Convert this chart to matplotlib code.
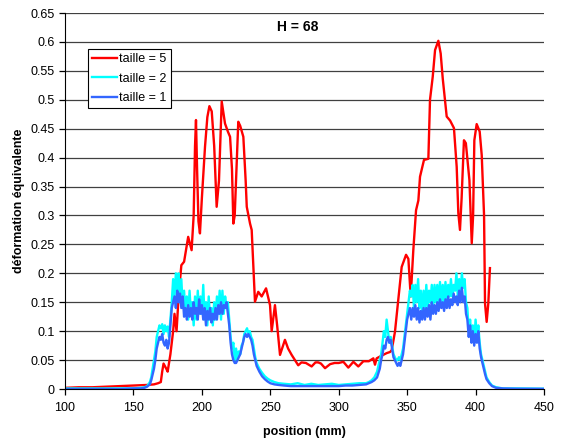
import numpy as np
import matplotlib
matplotlib.use("Agg")
import matplotlib.pyplot as plt

plt.rcParams['font.family'] = ['Liberation Sans', 'DejaVu Sans']

# taille = 5
x_t5 = [100, 110, 120, 130, 140, 150, 160, 165, 168, 170, 171, 172, 174, 175, 177, 179, 180, 181.5, 183,
        185, 187, 190, 192.5, 194, 195, 195.7, 196.5, 197.5, 198.6, 200, 202.3, 204, 205.5, 207.2, 209, 210.8,
        212.5, 214.5, 216.9, 219, 220.6, 222, 223, 224, 226.6, 228, 230.3, 232, 232.8, 235.2, 236.4, 238.8,
        241.2, 243.7, 246.9, 249.8, 251, 253.4, 255, 257.1, 260.7, 263, 265.6, 268, 270.4, 272.8, 276, 280.2,
        283, 285, 287, 290, 293.7, 297, 300, 303.4, 307, 310.7, 314.3, 318, 322, 325.3, 326.5, 327.7, 330,
        335, 337.5, 338.7, 341.1, 343.5, 346, 349.2, 350.9, 352.6, 354.5, 356.5, 358.2, 359.4, 362.3, 365.5,
        366.7, 368.7, 370.4, 372.8, 374.5, 376, 378.9, 381.4, 384.2, 386.2, 387.4, 388.6, 389.8, 391.5,
        392.9, 395.5, 397.2, 398.2, 399.1, 400.8, 403, 404.5, 406.2, 406.9, 408.1, 409.3, 410.5]
y_t5 = [0.002, 0.003, 0.003, 0.004, 0.005, 0.006, 0.007, 0.008, 0.01, 0.012, 0.03, 0.044, 0.035, 0.03, 0.06,
        0.1, 0.13, 0.1, 0.16, 0.214, 0.22, 0.263, 0.24, 0.3, 0.42, 0.465, 0.38, 0.29, 0.269, 0.33, 0.419,
        0.47, 0.489, 0.48, 0.42, 0.315, 0.36, 0.497, 0.459, 0.445, 0.436, 0.38, 0.286, 0.3, 0.462, 0.455,
        0.436, 0.36, 0.315, 0.286, 0.275, 0.151, 0.168, 0.16, 0.174, 0.145, 0.1, 0.145, 0.11, 0.059, 0.085,
        0.07, 0.059, 0.05, 0.041, 0.046, 0.045, 0.039, 0.046, 0.046, 0.044, 0.036, 0.043, 0.045, 0.045, 0.047,
        0.037, 0.047, 0.039, 0.048, 0.048, 0.053, 0.042, 0.053, 0.056, 0.062, 0.064, 0.067, 0.099, 0.154,
        0.211, 0.232, 0.225, 0.16, 0.24, 0.309, 0.326, 0.367, 0.396, 0.398, 0.5, 0.54, 0.586, 0.602, 0.58,
        0.537, 0.471, 0.464, 0.451, 0.384, 0.304, 0.275, 0.33, 0.43, 0.425, 0.361, 0.252, 0.3, 0.43, 0.458,
        0.445, 0.404, 0.3, 0.148, 0.116, 0.148, 0.209]

# taille = 2
x_t2 = [100, 120, 140, 150, 155, 158, 160, 162, 163, 164, 165, 166, 167, 168, 169, 170, 171, 172, 173, 174,
        175, 176, 177, 178, 179, 180, 181, 182, 183, 184, 185, 186, 187, 188, 189, 190, 191, 192, 193, 194,
        195, 196, 197, 198, 199, 200, 201, 202, 203, 204, 205, 206, 207, 208, 209, 210, 211, 212, 213, 214,
        215, 216, 217, 218, 219, 220, 221, 222, 223, 224, 225, 226, 227, 228, 229, 230, 231, 232, 233, 234,
        235, 236, 237, 238, 239, 240, 242, 244, 246, 248, 250, 253, 256, 260, 265, 270, 275, 280, 285, 290,
        295, 300, 305, 310, 315, 320, 322, 324, 326, 328, 330, 331, 332, 333, 334, 335, 336, 337, 338, 339,
        340, 341, 342, 343, 344, 345, 346, 347, 348, 349, 350, 351, 352, 353, 354, 355, 356, 357, 358, 359,
        360, 361, 362, 363, 364, 365, 366, 367, 368, 369, 370, 371, 372, 373, 374, 375, 376, 377, 378, 379,
        380, 381, 382, 383, 384, 385, 386, 387, 388, 389, 390, 391, 392, 393, 394, 395, 396, 397, 398, 399,
        400, 401, 402, 403, 404, 405, 406, 407, 408, 410, 412, 415, 420, 430, 450]
y_t2 = [0.001, 0.001, 0.001, 0.001, 0.002, 0.003, 0.005, 0.012, 0.02, 0.035, 0.05, 0.065, 0.09, 0.1, 0.11,
        0.105, 0.112, 0.095, 0.11, 0.1, 0.108, 0.09, 0.12, 0.15, 0.19, 0.16, 0.2, 0.17, 0.2, 0.15, 0.19, 0.14,
        0.17, 0.13, 0.16, 0.12, 0.17, 0.13, 0.15, 0.11, 0.16, 0.12, 0.17, 0.13, 0.16, 0.13, 0.18, 0.12, 0.15,
        0.11, 0.16, 0.12, 0.14, 0.11, 0.15, 0.12, 0.16, 0.13, 0.17, 0.12, 0.17, 0.13, 0.16, 0.14, 0.15, 0.12,
        0.09, 0.07, 0.08, 0.05, 0.07, 0.05, 0.065, 0.06, 0.075, 0.08, 0.095, 0.1, 0.105, 0.095, 0.1, 0.09,
        0.085, 0.07, 0.055, 0.045, 0.035, 0.028, 0.022, 0.018, 0.015, 0.012, 0.01, 0.009, 0.008, 0.01, 0.007,
        0.009, 0.007, 0.008, 0.009, 0.007, 0.008, 0.009, 0.01, 0.01, 0.012, 0.015, 0.02, 0.03, 0.05, 0.06,
        0.08, 0.1, 0.09, 0.12, 0.1, 0.08, 0.09, 0.075, 0.06, 0.055, 0.05, 0.05, 0.055, 0.05, 0.06, 0.07, 0.09,
        0.11, 0.13, 0.15, 0.17, 0.16, 0.18, 0.14, 0.18, 0.15, 0.19, 0.14, 0.17, 0.13, 0.17, 0.14, 0.18, 0.14,
        0.17, 0.15, 0.18, 0.14, 0.18, 0.15, 0.18, 0.15, 0.185, 0.15, 0.18, 0.15, 0.185, 0.155, 0.18, 0.16,
        0.19, 0.16, 0.18, 0.17, 0.2, 0.16, 0.19, 0.17, 0.2, 0.175, 0.19, 0.15, 0.14, 0.1, 0.12, 0.09, 0.11,
        0.08, 0.12, 0.09, 0.11, 0.08, 0.06, 0.05, 0.04, 0.03, 0.02, 0.012, 0.006, 0.003, 0.001, 0.001, 0.0005]

# taille = 1
x_t1 = x_t2
y_t1 = [0.0, 0.0, 0.0, 0.001, 0.001, 0.002, 0.004, 0.008, 0.015, 0.025, 0.035, 0.05, 0.07, 0.08, 0.09,
        0.085, 0.095, 0.08, 0.075, 0.085, 0.07, 0.08, 0.11, 0.14, 0.15, 0.16, 0.14, 0.17, 0.15, 0.165, 0.14,
        0.16, 0.125, 0.14, 0.12, 0.145, 0.125, 0.14, 0.12, 0.15, 0.13, 0.14, 0.12, 0.155, 0.13, 0.145, 0.12,
        0.14, 0.11, 0.135, 0.12, 0.14, 0.115, 0.13, 0.12, 0.14, 0.12, 0.145, 0.13, 0.15, 0.13, 0.145, 0.14,
        0.15, 0.13, 0.11, 0.08, 0.06, 0.05, 0.045, 0.045, 0.05, 0.055, 0.06, 0.07, 0.08, 0.09, 0.095, 0.09,
        0.095, 0.09, 0.085, 0.075, 0.06, 0.05, 0.04, 0.03, 0.022, 0.017, 0.013, 0.01, 0.008, 0.007, 0.006,
        0.005, 0.005, 0.005, 0.005, 0.005, 0.005, 0.005, 0.005, 0.006, 0.006, 0.007, 0.008, 0.01, 0.012,
        0.015, 0.02, 0.035, 0.05, 0.06, 0.075, 0.07, 0.085, 0.09, 0.08, 0.085, 0.07, 0.055, 0.05, 0.045, 0.04,
        0.045, 0.04, 0.05, 0.06, 0.08, 0.1, 0.12, 0.13, 0.14, 0.12, 0.14, 0.125, 0.145, 0.12, 0.14, 0.115,
        0.135, 0.12, 0.14, 0.12, 0.14, 0.125, 0.145, 0.12, 0.15, 0.13, 0.145, 0.13, 0.15, 0.135, 0.155, 0.14,
        0.15, 0.135, 0.155, 0.14, 0.16, 0.14, 0.155, 0.145, 0.165, 0.15, 0.16, 0.145, 0.17, 0.15, 0.175,
        0.15, 0.16, 0.13, 0.12, 0.09, 0.11, 0.08, 0.1, 0.075, 0.095, 0.08, 0.1, 0.07, 0.055, 0.045, 0.035,
        0.025, 0.017, 0.01, 0.005, 0.002, 0.001, 0.0005, 0.0003]

fig = plt.figure(figsize=(5.61, 4.41), dpi=100)
ax = fig.add_axes([0.1159, 0.1179, 0.8538, 0.8526])

for y in np.arange(0.05, 0.66, 0.05):
    ax.axhline(y, color='#404040', lw=0.9, zorder=0)

ax.plot(x_t5, y_t5, color='#ff0000', lw=1.7, label='taille = 5')
ax.plot(x_t2, y_t2, color='#00ffff', lw=1.7, label='taille = 2')
ax.plot(x_t1, y_t1, color='#3366ff', lw=1.7, label='taille = 1')

ax.set_xlim(100, 450)
ax.set_ylim(0, 0.65)
ax.set_xticks(np.arange(100, 451, 50))
ax.set_yticks(np.arange(0, 0.651, 0.05))
ax.set_yticklabels(['0', '0.05', '0.1', '0.15', '0.2', '0.25', '0.3', '0.35', '0.4', '0.45',
                    '0.5', '0.55', '0.6', '0.65'])
ax.tick_params(labelsize=9, length=4, width=0.9, color='black')
ax.tick_params(axis='x', pad=5)
ax.spines['top'].set_visible(False)
ax.spines['right'].set_visible(False)

ax.set_xlabel('position (mm)', fontsize=9, fontweight='bold', labelpad=9)
ax.set_ylabel('déformation équivalente', fontsize=9, fontweight='bold', labelpad=4)
ax.text(0.485, 0.963, 'H = 68', transform=ax.transAxes, fontsize=10, fontweight='bold',
        ha='center', va='center')

leg = ax.legend(loc='upper left', bbox_to_anchor=(0.048, 0.904), fontsize=9, fancybox=False,
                framealpha=1, edgecolor='black', borderpad=0.35, labelspacing=0.58, handlelength=2.0,
                handletextpad=0.15, borderaxespad=0)
leg.get_frame().set_linewidth(0.8)

plt.savefig('out.png', dpi=100)
